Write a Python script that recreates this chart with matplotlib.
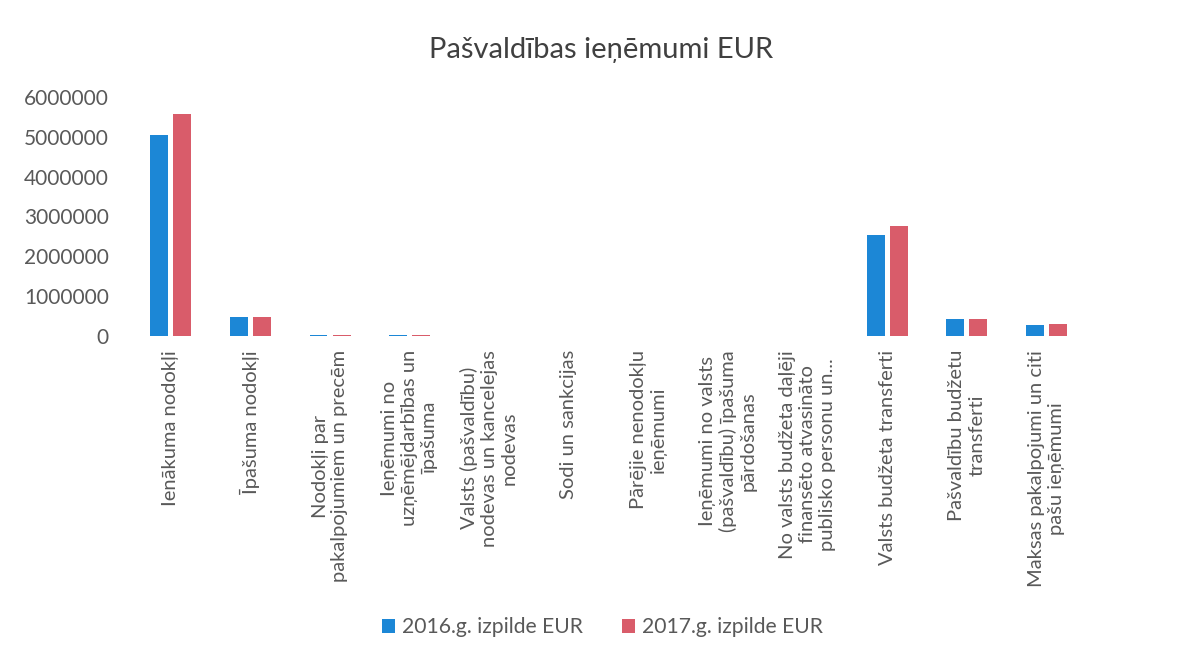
import numpy as np
import matplotlib.pyplot as plt

plt.rcParams['font.family'] = ['Lato', 'DejaVu Sans']

categories = [
    "Ienākuma nodokļi",
    "Īpašuma nodokļi",
    "Nodokļi par\npakalpojumiem un precēm",
    "Ieņēmumi no\nuzņēmējdarbības un\nīpašuma",
    "Valsts (pašvaldību)\nnodevas un kancelejas\nnodevas",
    "Sodi un sankcijas",
    "Pārējie nenodokļu\nieņēmumi",
    "Ieņēmumi no valsts\n(pašvaldību) īpašuma\npārdošanas",
    "No valsts budžeta daļēji\nfinansēto atvasināto\npublisko personu un...",
    "Valsts budžeta transferti",
    "Pašvaldību budžetu\ntransferti",
    "Maksas pakalpojumi un citi\npašu ieņēmumi",
]
izpilde_2016 = [5050000, 470000, 30000, 30000, 5000, 2000, 5000, 10000, 0, 2545000, 430000, 280000]
izpilde_2017 = [5580000, 465000, 30000, 25000, 5000, 2000, 5000, 10000, 0, 2765000, 430000, 310000]
series_names = ["2016.g. izpilde EUR", "2017.g. izpilde EUR"]
yticks = [0, 1000000, 2000000, 3000000, 4000000, 5000000, 6000000]

blue = "#1c87d6"
red = "#d95c6a"
text_col = "#595959"

fig = plt.figure(figsize=(11.91, 6.61), dpi=100)
ax = fig.add_axes([0.110, 0.4917, 0.802, 0.3616])

x = np.arange(len(categories))
w = 0.225
ax.bar(x - 0.145, izpilde_2016, w, color=blue, label=series_names[0])
ax.bar(x + 0.145, izpilde_2017, w, color=red, label=series_names[1])

ax.set_xlim(-0.5, len(categories) - 0.5)
ax.set_ylim(0, 6000000)
ax.set_yticks(yticks)
ax.set_yticklabels([str(v) for v in yticks])
ax.set_xticks(x)
ax.set_xticklabels(categories, rotation=90, ha='center', va='top',
                   multialignment='center', linespacing=1.2)

for s in ax.spines.values():
    s.set_visible(False)
ax.tick_params(axis='y', length=0, pad=16, labelsize=15, labelcolor=text_col)
ax.tick_params(axis='x', length=0, pad=10, labelsize=14.5, labelcolor=text_col)

fig.text(0.505, 0.925, "Pašvaldības ieņēmumi EUR", ha='center', va='center',
         fontsize=21, color="#404040")

fig.legend(loc='center', bbox_to_anchor=(0.506, 0.051), ncol=2, frameon=False,
           fontsize=15.2, handlelength=0.6, handleheight=0.6, handletextpad=0.35,
           columnspacing=1.85, labelcolor=text_col)

fig.savefig("out.png", dpi=100, facecolor="white")
